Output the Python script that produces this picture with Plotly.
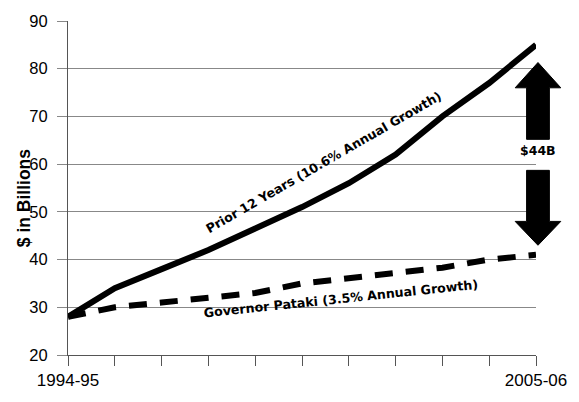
import plotly.graph_objects as go

# Fiscal years on the horizontal axis (one tick per year)
years = ["1994-95", "1995-96", "1996-97", "1997-98", "1998-99", "1999-00",
         "2000-01", "2001-02", "2002-03", "2003-04", "2005-06"]
# Spending, $ in billions
prior_trend = [28, 34, 38, 42, 46.5, 51, 56, 62, 70, 77, 85]
pataki = [28, 30, 31, 32, 33, 35, 36, 37, 38.3, 40, 41]
# Only the first and last year are labelled
tick_labels = [years[0]] + [""] * (len(years) - 2) + [years[-1]]
gap_label = "$44B"

FONT = "Liberation Sans, Arial, sans-serif"
LABEL_FONT = "DejaVu Sans, Verdana, sans-serif"
x_idx = list(range(len(years)))

fig = go.Figure()
fig.add_trace(go.Scatter(x=x_idx, y=prior_trend, mode="lines",
                         line=dict(color="black", width=6), showlegend=False))
fig.add_trace(go.Scatter(x=x_idx, y=pataki, mode="lines",
                         line=dict(color="black", width=6, dash="18px,13px"),
                         showlegend=False))

# Plot area in px
L, W, T, H = 68, 472, 16.7, 350


def px(p):
    return (p - L) / W


# Block arrows marking the gap between the two trends at the last year
xc = 542
shaft, head = 11.5, 23
up_tip, up_base, up_bottom = 81.3, 76.0, 65.2
dn_top, dn_base, dn_tip = 58.7, 48.0, 43.0
up = (f"M {px(xc - shaft)} {up_bottom} L {px(xc - shaft)} {up_base} "
      f"L {px(xc - head)} {up_base} L {px(xc)} {up_tip} L {px(xc + head)} {up_base} "
      f"L {px(xc + shaft)} {up_base} L {px(xc + shaft)} {up_bottom} Z")
dn = (f"M {px(xc - shaft)} {dn_top} L {px(xc - shaft)} {dn_base} "
      f"L {px(xc - head)} {dn_base} L {px(xc)} {dn_tip} L {px(xc + head)} {dn_base} "
      f"L {px(xc + shaft)} {dn_base} L {px(xc + shaft)} {dn_top} Z")
for p in (up, dn):
    fig.add_shape(type="path", path=p, xref="paper", yref="y",
                  fillcolor="black", line=dict(color="black", width=1))

fig.add_annotation(x=px(542), y=62.9, xref="paper", yref="y",
                   xanchor="center", yanchor="middle",
                   text=f"<b>{gap_label}</b>", showarrow=False,
                   font=dict(family=LABEL_FONT, size=12.5, color="black"))

fig.add_annotation(x=5.45, y=60.4, text="<b>Prior 12 Years (10.6% Annual Growth)</b>",
                   xanchor="center", yanchor="middle",
                   showarrow=False, textangle=-30,
                   font=dict(family=LABEL_FONT, size=12.6, color="black"))
fig.add_annotation(x=5.84, y=31.9, text="<b>Governor Pataki (3.5% Annual Growth)</b>",
                   xanchor="center", yanchor="middle",
                   showarrow=False, textangle=-6,
                   font=dict(family=LABEL_FONT, size=12.6, color="black"))

# Vertical axis title
fig.add_annotation(x=px(23), y=(T + H - 202) / H, xref="paper", yref="paper",
                   xanchor="center", yanchor="middle",
                   text="<b>$ in Billions</b>", showarrow=False, textangle=-90,
                   font=dict(family=FONT, size=17.5, color="black"))

fig.update_layout(
    width=579, height=402,
    margin=dict(l=L, r=579 - L - W, t=T, b=402 - T - H),
    paper_bgcolor="white", plot_bgcolor="white",
    font=dict(family=FONT, size=17, color="black"),
    xaxis=dict(range=[0, len(years) - 1], tickmode="array", tickvals=x_idx,
               ticktext=tick_labels, showgrid=False, zeroline=False,
               showline=True, linecolor="#555", linewidth=1,
               ticks="outside", ticklen=10, tickcolor="#555",
               tickfont=dict(size=17)),
    yaxis=dict(range=[20, 90], dtick=10, tick0=20, showgrid=True,
               gridcolor="#888", gridwidth=1, zeroline=False,
               showline=True, linecolor="#555", linewidth=1,
               ticks="outside", ticklen=10, tickcolor="#888",
               ticklabelstandoff=6, tickfont=dict(size=16.5)),
)

fig.write_html("out.html")
